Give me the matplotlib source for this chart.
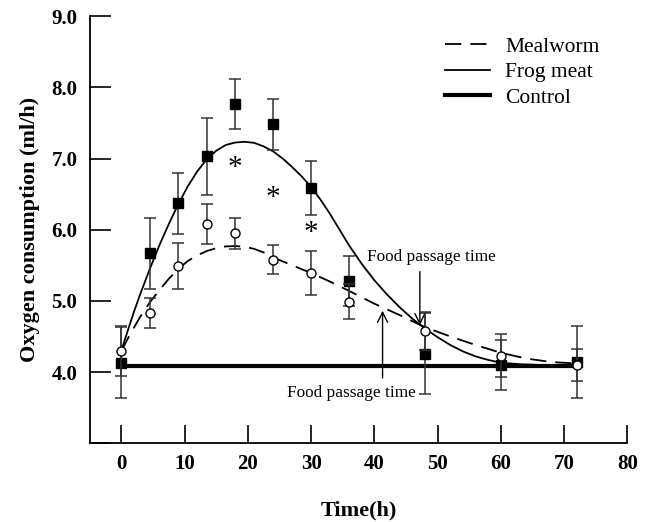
import matplotlib
matplotlib.use('Agg')
import matplotlib.pyplot as plt

# measured points (mean, sd)
frog_t = [0, 4.5, 9, 13.5, 18, 24, 30, 36, 48, 60, 72]
frog_y = [4.13, 5.67, 6.37, 7.03, 7.77, 7.48, 6.59, 5.28, 4.26, 4.10, 4.14]
frog_err = [0.50, 0.50, 0.43, 0.54, 0.35, 0.36, 0.38, 0.35, 0.57, 0.35, 0.50]

meal_t = [0, 4.5, 9, 13.5, 18, 24, 30, 36, 48, 60, 72]
meal_y = [4.29, 4.83, 5.49, 6.08, 5.95, 5.58, 5.39, 4.99, 4.58, 4.23, 4.10]
meal_err = [0.35, 0.21, 0.32, 0.28, 0.22, 0.20, 0.31, 0.25, 0.27, 0.30, 0.22]

# fitted curves
frog_fit_t = [0, 1, 2, 3, 4.5, 6, 7.5, 9, 10.5, 12, 13.5, 15, 16.5, 18, 19.5, 21, 22.5, 24,
              25.5, 27, 28.5, 30, 31.5, 33, 34.5, 36, 38, 40, 42, 44, 46, 48, 50, 52, 54,
              56, 58, 60, 63, 66, 69, 72]
frog_fit_y = [4.30, 4.58, 4.85, 5.10, 5.45, 5.78, 6.08, 6.36, 6.61, 6.82, 6.99, 7.11, 7.19,
              7.225, 7.235, 7.22, 7.17, 7.10, 7.00, 6.88, 6.75, 6.60, 6.42, 6.22, 6.00, 5.78,
              5.52, 5.29, 5.09, 4.91, 4.75, 4.61, 4.49, 4.38, 4.29, 4.22, 4.17, 4.13, 4.11,
              4.10, 4.09, 4.09]
meal_fit_t = [0, 1.5, 3, 4.5, 6, 7.5, 9, 10.5, 12, 13.5, 15, 16.5, 18, 19.5, 21, 22.5, 24,
              27, 30, 33, 36, 40, 44, 48, 52, 56, 60, 64, 68, 72]
meal_fit_y = [4.30, 4.55, 4.78, 4.98, 5.15, 5.31, 5.45, 5.56, 5.64, 5.70, 5.74, 5.765, 5.77,
              5.76, 5.73, 5.68, 5.61, 5.50, 5.39, 5.27, 5.14, 4.96, 4.80, 4.63, 4.50, 4.38,
              4.27, 4.19, 4.14, 4.12]

control_t = [0, 72]
control_y = [4.09, 4.09]

star_t = [18, 24, 30]
star_y = [6.86, 6.45, 5.96]

plt.rcParams['font.family'] = ['Liberation Serif', 'DejaVu Serif']

fig = plt.figure(figsize=(6.46, 5.22), dpi=100)
ax = fig.add_axes([0.139, 0.151, 0.832, 0.818])

ax.errorbar(frog_t, frog_y, yerr=frog_err, fmt='s', color='black', ms=6.5,
            ecolor='#333333', elinewidth=1.1, capsize=4, capthick=1.1, zorder=3)
ax.errorbar(meal_t, meal_y, yerr=meal_err, fmt='o', mfc='white', mec='black', ms=6.5,
            ecolor='#333333', elinewidth=1.1, capsize=4, capthick=1.1, zorder=4)

ax.plot(meal_fit_t, meal_fit_y, color='black', lw=1.3, dashes=(9, 5), label='Mealworm')
ax.plot(frog_fit_t, frog_fit_y, color='black', lw=1.3, label='Frog meat')
ax.plot(control_t, control_y, color='black', lw=3, label='Control')

for t, y in zip(star_t, star_y):
    ax.text(t, y, '*', ha='center', va='center', fontsize=21)

ax.annotate('', xy=(47.2, 4.62), xytext=(47.2, 5.45),
            arrowprops=dict(arrowstyle='->', color='black', lw=1, mutation_scale=18))
ax.text(38.9, 5.62, 'Food passage time', fontsize=12.4, va='center')
ax.annotate('', xy=(41.3, 4.9), xytext=(41.3, 3.88),
            arrowprops=dict(arrowstyle='->', color='black', lw=1, mutation_scale=18))
ax.text(26.2, 3.70, 'Food passage time', fontsize=12.4, va='center')

ax.set_xlim(-5, 80)
ax.set_ylim(3, 9)
ax.set_xticks(range(0, 81, 10))
ax.set_yticks([3, 4, 5, 6, 7, 8, 9])
ax.set_yticklabels(['', '4.0', '5.0', '6.0', '7.0', '8.0', '9.0'])
ax.tick_params(direction='in', length=13, width=1.2, labelsize=15, pad=8)
ax.tick_params(axis='y', length=15, pad=9)
for lab in ax.get_xticklabels() + ax.get_yticklabels():
    lab.set_fontweight('bold')
for s in ['top', 'right']:
    ax.spines[s].set_visible(False)
for s in ['left', 'bottom']:
    ax.spines[s].set_linewidth(1.3)

ax.set_xlabel('Time(h)', fontsize=16, fontweight='bold', labelpad=19)
ax.set_ylabel('Oxygen consumption (ml/h)', fontsize=16, fontweight='bold', labelpad=8)

ax.legend(loc='upper right', bbox_to_anchor=(0.985, 0.997), frameon=False, fontsize=15.5,
          handlelength=2.1, handletextpad=0.7, labelspacing=0.25)

fig.savefig('out.png', dpi=100)
